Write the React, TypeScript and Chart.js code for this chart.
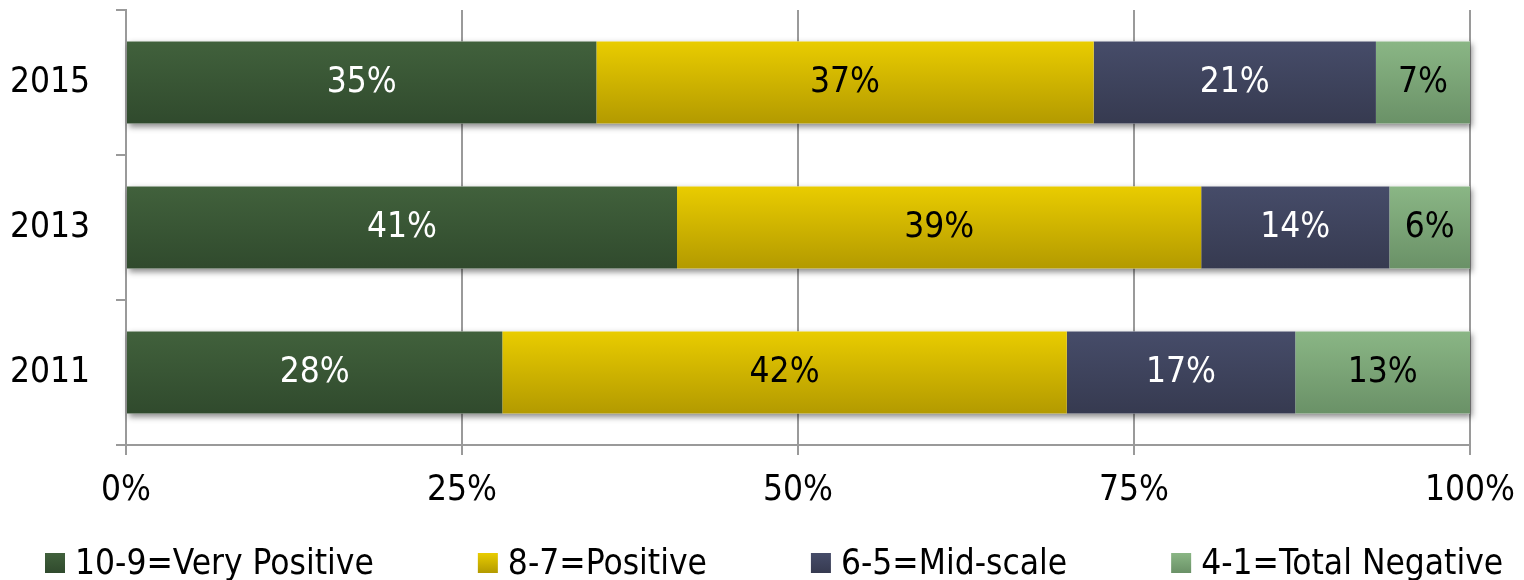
import React, { useEffect, useRef } from 'react';
import { Chart, registerables } from 'chart.js';

Chart.register(...registerables);

const years = ['2015', '2013', '2011'];
const seriesNames = ['10-9=Very Positive', '8-7=Positive', '6-5=Mid-scale', '4-1=Total Negative'];
const veryPositive = [35, 41, 28];
const positive = [37, 39, 42];
const midScale = [21, 14, 17];
const totalNegative = [7, 6, 13];
const xTicks = [0, 25, 50, 75, 100];

const FONT_FAMILY = "'DejaVu Sans Condensed', 'DejaVu Sans', sans-serif";
const FONT_SIZE = 35;
const topColors = ['#41613c', '#e9cc00', '#464c69', '#8ab685'];
const bottomColors = ['#304a2d', '#b39a00', '#363a50', '#6a9167'];
const labelColors = ['#ffffff', '#000000', '#ffffff', '#000000'];
const BAR_PCT = 0.566;
const GRID = '#9a9a9a';

const makeBg = (i: number) => (ctx: any) => {
  const chart = ctx.chart;
  const yScale = chart.scales && chart.scales.y;
  if (!yScale || ctx.type !== 'data' || ctx.dataIndex === undefined) return topColors[i];
  const center = yScale.getPixelForValue(ctx.dataIndex);
  const half = (yScale.height / years.length) * BAR_PCT / 2;
  if (!isFinite(center) || !isFinite(half)) return topColors[i];
  const g = chart.ctx.createLinearGradient(0, center - half, 0, center + half);
  g.addColorStop(0, topColors[i]);
  g.addColorStop(1, bottomColors[i]);
  return g;
};

const shadowPlugin = {
  id: 'barShadow',
  beforeDatasetsDraw(chart: any) {
    const ctx = chart.ctx;
    const first = chart.getDatasetMeta(0);
    const last = chart.getDatasetMeta(chart.data.datasets.length - 1);
    ctx.save();
    ctx.shadowColor = 'rgba(0,0,0,0.45)';
    ctx.shadowBlur = 6;
    ctx.shadowOffsetX = 2;
    ctx.shadowOffsetY = 3;
    ctx.fillStyle = '#ffffff';
    first.data.forEach((bar: any, i: number) => {
      const b = bar.getProps(['x', 'y', 'base', 'height'], true);
      const e = last.data[i].getProps(['x'], true);
      ctx.fillRect(b.base, b.y - b.height / 2, e.x - b.base, b.height);
    });
    ctx.restore();
  },
};

const valueLabelPlugin = {
  id: 'valueLabels',
  afterDatasetsDraw(chart: any) {
    const ctx = chart.ctx;
    ctx.save();
    ctx.font = `${FONT_SIZE}px ${FONT_FAMILY}`;
    ctx.textAlign = 'center';
    ctx.textBaseline = 'middle';
    chart.data.datasets.forEach((ds: any, di: number) => {
      const meta = chart.getDatasetMeta(di);
      meta.data.forEach((bar: any, i: number) => {
        const p = bar.getProps(['x', 'y', 'base'], true);
        ctx.fillStyle = labelColors[di];
        ctx.fillText(`${ds.data[i]}%`, (p.x + p.base) / 2, p.y);
      });
    });
    ctx.restore();
  },
};

const legendPlugin = {
  id: 'customLegend',
  afterDraw(chart: any) {
    const ctx = chart.ctx;
    const boxW = 20;
    const boxH = 20;
    const boxGap = 10;
    const itemGap = 104;
    ctx.save();
    ctx.font = `${FONT_SIZE}px ${FONT_FAMILY}`;
    const widths = seriesNames.map((t) => boxW + boxGap + ctx.measureText(t).width);
    let x = 45;
    const baseline = 574;
    seriesNames.forEach((t, i) => {
      const g = ctx.createLinearGradient(0, baseline - boxH - 1, 0, baseline - 1);
      g.addColorStop(0, topColors[i]);
      g.addColorStop(1, bottomColors[i]);
      ctx.fillStyle = g;
      ctx.fillRect(x, baseline - boxH - 1, boxW, boxH);
      ctx.fillStyle = '#000000';
      ctx.textAlign = 'left';
      ctx.textBaseline = 'alphabetic';
      ctx.fillText(t, x + boxW + boxGap, baseline);
      x += widths[i] + itemGap;
    });
    ctx.restore();
  },
};

export default function App() {
  const canvasRef = useRef<HTMLCanvasElement | null>(null);

  useEffect(() => {
    if (!canvasRef.current) return;
    const seriesValues = [veryPositive, positive, midScale, totalNegative];
    const font = { family: FONT_FAMILY, size: FONT_SIZE };
    const chart = new Chart(canvasRef.current, {
      type: 'bar',
      data: {
        labels: years,
        datasets: seriesNames.map((name, i) => ({
          label: name,
          data: seriesValues[i],
          backgroundColor: makeBg(i),
          borderWidth: 0,
          categoryPercentage: 1,
          barPercentage: BAR_PCT,
        })),
      },
      options: {
        indexAxis: 'y',
        responsive: true,
        maintainAspectRatio: false,
        animation: false,
        layout: { padding: { top: 10, right: 54, left: 0, bottom: 0 } },
        plugins: {
          legend: { display: false },
          tooltip: { enabled: false },
        },
        scales: {
          x: {
            stacked: true,
            min: 0,
            max: 100,
            afterBuildTicks: (scale: any) => {
              scale.ticks = xTicks.map((v) => ({ value: v }));
            },
            ticks: {
              font,
              color: '#000000',
              padding: 15,
              maxRotation: 0,
              callback: (v: any) => `${v}%`,
            },
            grid: { color: GRID, lineWidth: 2, tickLength: 10, drawTicks: true },
            border: { color: GRID, width: 2 },
            afterFit: (scale: any) => {
              scale.height = 135;
              scale.paddingLeft = 0;
              scale.paddingRight = 0;
            },
          },
          y: {
            stacked: true,
            ticks: { font, color: '#000000', padding: 26 },
            grid: { drawOnChartArea: false, tickLength: 10, color: GRID, lineWidth: 2, offset: true },
            border: { color: GRID, width: 2 },
            afterFit: (scale: any) => {
              scale.width = 126;
              scale.paddingTop = 0;
              scale.paddingBottom = 0;
            },
          },
        },
      },
      plugins: [shadowPlugin, valueLabelPlugin, legendPlugin],
    } as any);
    return () => chart.destroy();
  }, []);

  return (
    <div style={{ position: 'absolute', left: 0, top: 0, width: 1524, height: 580, background: '#ffffff' }}>
      <canvas ref={canvasRef} />
    </div>
  );
}
